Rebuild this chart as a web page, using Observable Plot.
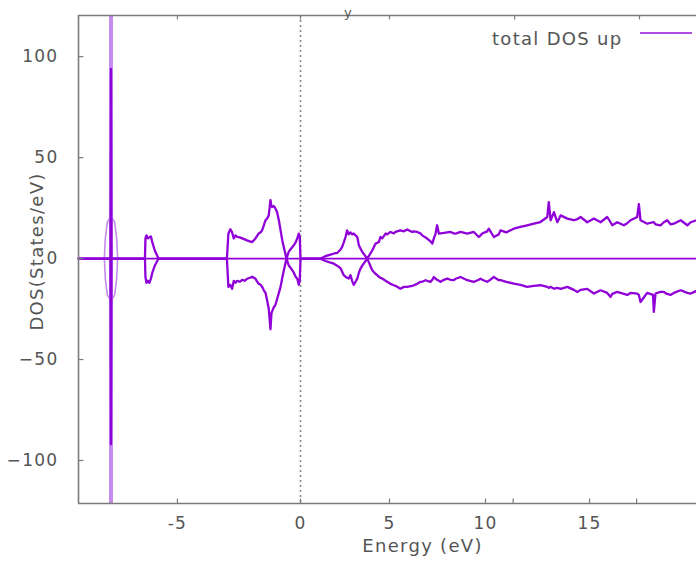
<!DOCTYPE html>
<html><head><meta charset="utf-8">
<script src="https://cdn.jsdelivr.net/npm/d3@7"></script>
<script src="https://cdn.jsdelivr.net/npm/@observablehq/plot@0.6"></script>
<style>
body{margin:0;background:#fff;}
#chart{position:relative;width:696px;height:564px;overflow:hidden;}
#chart svg text{letter-spacing:1.3px;}
</style></head><body><div id="chart"></div>
<script>
// Energy grid (eV) and total DOS up (positive) / down (negative), States/eV
const energy = [-9.02,-7.72,-7.70,-7.68,-6.32,-6.30,-6.26,-6.20,-6.14,-6.08,-6.02,-5.92,-5.77,
 -2.99,-2.93,-2.85,-2.78,-2.71,-2.64,-2.57,-2.47,-2.37,-2.27,-2.17,-2.06,-1.96,-1.83,-1.70,-1.62,-1.56,-1.49,-1.42,-1.35,-1.29,-1.24,-1.22,-1.18,-1.15,-1.08,-1.02,-0.95,-0.88,-0.81,-0.74,-0.68,-0.57,-0.48,-0.38,-0.27,-0.20,-0.13,-0.07,-0.03,0.00,
 1.12,1.40,1.69,1.85,2.06,2.25,2.34,2.43,2.53,2.62,2.71,2.81,2.90,2.99,3.09,3.19,3.28,3.37,3.47,3.75,
 4.03,4.21,4.31,4.40,4.49,4.59,4.78,4.87,5.05,5.22,5.31,5.57,5.75,5.92,6.18,6.27,6.44,6.61,6.70,6.88,6.96,7.14,7.23,7.31,7.40,7.48,7.57,7.66,7.83,8.01,8.18,8.35,8.44,8.70,9.05,9.39,9.65,9.74,9.83,
 10.08,10.16,10.40,10.64,10.72,11.00,11.36,11.68,12.00,12.32,12.64,12.97,13.04,13.13,13.29,13.45,13.61,13.93,14.25,14.41,14.57,14.89,15.21,15.53,15.85,16.01,16.09,16.33,16.65,16.81,16.97,17.29,17.37,17.45,17.77,18.05,18.09,18.17,18.41,18.57,18.73,18.89,19.05,19.38,19.70,19.86,20.14];
const dosUp = [0,0,94,0,0,10,11.5,10,10.5,11,8,4,0,
 0,12.4,14.5,13,10,11.5,10.7,10.5,10,9.5,9,8.5,8.2,10,12.4,13,14,16.5,19,20,21.4,27,29,26,25.5,26,24.8,23,19,14,9,5.7,0,3.3,5,6.6,8,10,12.4,11,0,
 0,1.2,2,2.4,2.8,4.5,5.8,8,10.7,14,12,13,12,12.4,11.5,10.7,6.6,5,3.3,0,
 4,7.4,7.8,8.2,10.7,10,12.4,12,13.2,12.5,13.2,14,13.5,14.4,13.2,13.5,13.2,12.5,11.5,10.5,9.9,8.5,7.4,10,12.4,16.5,12.4,12.5,12.7,13,13.2,12.5,12.4,13.2,12.4,13.2,10.7,11.5,12.4,
 13.5,14.8,10.7,12,14,13,14.8,15.7,16.5,17.3,18.1,20.6,28,19,23,18,21.4,19.8,19,19.5,20.6,18,19.8,18,20.6,18,16.5,18,16.5,17.5,19,20.6,27,19,17.3,18,18,17,16.5,18,19,17,17.3,19,16.5,18,19];
const dosDown = [0,0,-92,0,0,-9,-12,-11,-12,-10,-7,-3.5,0,
 0,-14,-13,-15,-11,-12,-11,-11.5,-10.5,-11,-10,-9.5,-9,-10,-12.5,-13,-14,-15.7,-17,-21,-25,-32,-35,-27,-26,-24,-23,-20,-17,-14,-9.5,-6,0,-3.3,-5,-7,-9,-10,-13,-11,0,
 0,-1.2,-2,-2.4,-3.5,-4.8,-6.5,-8.2,-9,-9.5,-9.9,-8.2,-11,-13,-11.5,-9.9,-7,-5,-3.5,0,
 -5.8,-7.5,-8.2,-9,-9.5,-9.9,-11,-11.5,-12.5,-13.2,-13.5,-14.9,-14,-14,-13.5,-13.2,-12.5,-11.5,-11.5,-10.7,-11,-11.5,-10.5,-9.1,-10,-10.5,-11,-11.5,-10.5,-9.9,-10.5,-10.7,-10,-9.1,-10.7,-11.5,-10.5,-9.9,-10.5,
 -11.5,-11,-9.1,-10.7,-10.7,-11.5,-12.4,-13,-14,-13.5,-13.2,-14,-14.5,-14,-14.9,-14.5,-15,-14,-15.5,-16.5,-15.5,-15,-17.3,-15.7,-17,-19,-17.5,-16.5,-17.5,-18,-17,-17.3,-18,-21.5,-17,-18,-26.4,-17.3,-16.5,-16.5,-17.5,-18,-17,-15.7,-17,-17.3,-16];
// Narrow semicore peak (faint outline around it)
const spikeEnergy = [-7.70];
const haloEnergy = [-7.97,-7.93,-7.85,-7.70,-7.55,-7.47,-7.43];
const haloUp = [0,10,18,21,18,10,0];
const haloDown = [0,-10,-18,-21,-18,-10,0];
// Axes
const xTicks = [-5,0,5,10,15];
const xMinorTicks = [11.33,17.26];
const topTicks = [-5,0,5,11.4,17.4];
const yTicks = [-100,-50,0,50,100];
const xBreaks = [-9.02,0,5,10,20.14];   // the source figure's energy axis is unevenly stretched
const yDomain = [-121.3,120.4];
const titleText = "y";
const legendText = "total DOS up";
const xLabel = "Energy (eV)";
const yLabel = "DOS(States/eV)";

const purple = "#9000d8";
const light = "#c48cee";
const grey = "#7a7a7a";
// piecewise-linear stretch of the energy axis, as in the source picture
const stretch = d3.scaleLinear().domain(xBreaks).range([0, 222, 311, 407, 618]);
const up = energy.map((e,i)=>({e, v: dosUp[i]}));
const down = energy.map((e,i)=>({e, v: dosDown[i]}));
const hUp = haloEnergy.map((e,i)=>({e, v: haloUp[i]}));
const hDown = haloEnergy.map((e,i)=>({e, v: haloDown[i]}));
const xLeft = xBreaks[0];

const plot = Plot.plot({
  width: 696, height: 564,
  marginLeft: 78, marginRight: 0, marginTop: 15, marginBottom: 61,
  style: {fontFamily: "'DejaVu Sans', sans-serif", fontSize: "17px", color: "#555", background: "#fff", overflow: "visible"},
  x: {transform: stretch, domain: [0, 618]},
  y: {domain: yDomain},
  marks: [
    Plot.ruleX([0], {stroke: "#888", strokeDasharray: "2,3", strokeWidth: 1.6}),
    Plot.ruleX(spikeEnergy, {stroke: light, strokeWidth: 4}),
    Plot.line(hUp, {x: "e", y: "v", stroke: light, strokeWidth: 1.6}),
    Plot.line(hDown, {x: "e", y: "v", stroke: light, strokeWidth: 1.6}),
    Plot.ruleY([0], {stroke: purple, strokeWidth: 1.8}),
    Plot.line(up, {x: "e", y: "v", stroke: purple, strokeWidth: 2.3, strokeLinejoin: "round"}),
    Plot.line(down, {x: "e", y: "v", stroke: purple, strokeWidth: 2.3, strokeLinejoin: "round"}),
    Plot.ruleX([xLeft], {stroke: grey, strokeWidth: 1.6}),
    Plot.ruleY([yDomain[0], yDomain[1]], {stroke: grey, strokeWidth: 1.6}),
    Plot.ruleX(xTicks.concat(xMinorTicks), {y1: yDomain[0], y2: yDomain[0] + 2.2, stroke: grey, strokeWidth: 1.2}),
    Plot.ruleX(topTicks, {y1: yDomain[1], y2: yDomain[1] - 2.2, stroke: grey, strokeWidth: 1.2}),
    Plot.ruleY(yTicks, {x1: xLeft, x2: xLeft + 0.22, stroke: grey, strokeWidth: 1.2}),
    Plot.axisX(xTicks, {tickSize: 0, tickPadding: 13, label: null, tickFormat: d => String(d)}),
    Plot.axisY(yTicks, {tickSize: 0, tickPadding: 20, label: null}),
    Plot.text([xLabel], {frameAnchor: "bottom", dx: 35, dy: 48, fontSize: 18}),
    Plot.text([yLabel], {frameAnchor: "middle", dx: -350, dy: -8, rotate: -90, textAnchor: "middle", fontSize: 18}),
    Plot.text([legendText], {frameAnchor: "top-right", dx: -74, dy: 17, textAnchor: "end", fontSize: 18}),
    Plot.text([titleText], {frameAnchor: "top", dx: -39, dy: -8, fontSize: 13})
  ]
});
document.getElementById("chart").appendChild(plot);
// legend sample line
d3.select(plot).append("line")
  .attr("x1", 640).attr("x2", 692).attr("y1", 33).attr("y2", 33)
  .attr("stroke", purple).attr("stroke-opacity", 0.7).attr("stroke-width", 2);
</script></body></html>
